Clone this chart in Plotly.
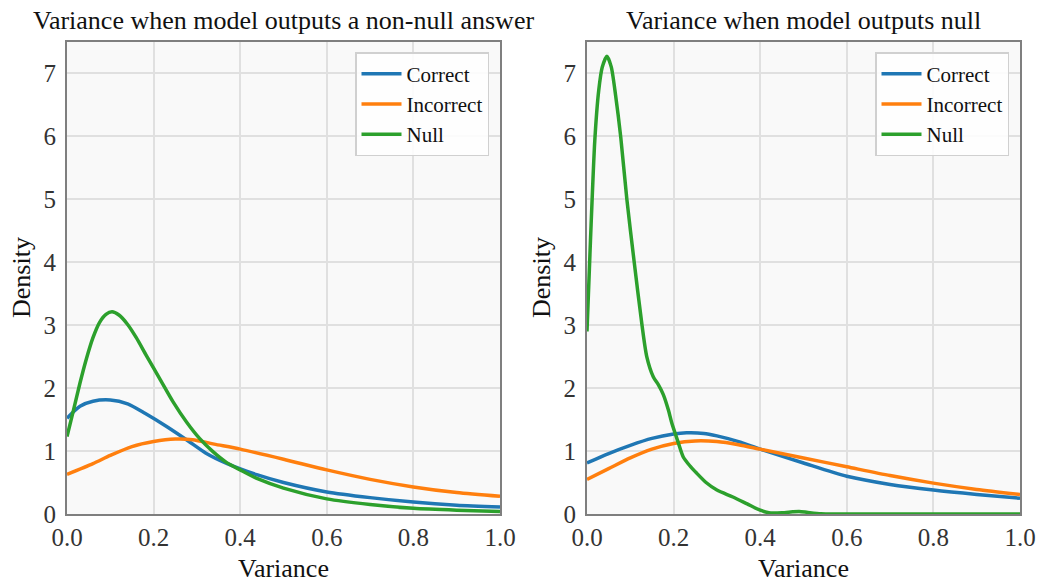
import plotly.graph_objects as go

# ---------------- data ----------------
series_names = ["Correct", "Incorrect", "Null"]
series_colors = ["#1f77b4", "#ff7f0e", "#2ca02c"]

panel_titles = ["Variance when model outputs a non-null answer",
                "Variance when model outputs null"]

x_ticks = [0.0, 0.2, 0.4, 0.6, 0.8, 1.0]
x_tick_labels = ["0.0", "0.2", "0.4", "0.6", "0.8", "1.0"]
y_ticks = [0, 1, 2, 3, 4, 5, 6, 7]
y_tick_labels = ["0", "1", "2", "3", "4", "5", "6", "7"]

# Left panel: model outputs a non-null answer
left_correct_x = [0.0, 0.03, 0.06, 0.10, 0.14, 0.18, 0.23, 0.28, 0.32, 0.37, 0.44, 0.50, 0.60, 0.70, 0.80, 0.90, 1.0]
left_correct_y = [1.52, 1.71, 1.79, 1.81, 1.75, 1.60, 1.39, 1.16, 0.97, 0.80, 0.62, 0.50, 0.35, 0.26, 0.19, 0.14, 0.11]

left_incorrect_x = [0.0, 0.06, 0.10, 0.15, 0.20, 0.25, 0.29, 0.34, 0.40, 0.50, 0.60, 0.70, 0.80, 0.90, 1.0]
left_incorrect_y = [0.63, 0.80, 0.93, 1.07, 1.15, 1.19, 1.18, 1.11, 1.03, 0.87, 0.70, 0.55, 0.43, 0.34, 0.28]

left_null_x = [0.0, 0.015, 0.03, 0.045, 0.06, 0.075, 0.09, 0.104, 0.12, 0.14, 0.16, 0.183, 0.214, 0.245, 0.276,
               0.306, 0.337, 0.368, 0.40, 0.44, 0.50, 0.60, 0.70, 0.80, 0.90, 1.0]
left_null_y = [1.23, 1.65, 2.08, 2.47, 2.80, 3.04, 3.17, 3.21, 3.16, 3.01, 2.80, 2.52, 2.15, 1.78, 1.46,
               1.20, 0.99, 0.82, 0.70, 0.56, 0.41, 0.24, 0.15, 0.09, 0.06, 0.04]

# Right panel: model outputs null
right_correct_x = [0.0, 0.05, 0.10, 0.15, 0.20, 0.23, 0.27, 0.30, 0.35, 0.40, 0.50, 0.60, 0.70, 0.80, 0.90, 1.0]
right_correct_y = [0.81, 0.96, 1.09, 1.20, 1.27, 1.29, 1.28, 1.24, 1.15, 1.03, 0.81, 0.60, 0.47, 0.38, 0.31, 0.25]

right_incorrect_x = [0.0, 0.05, 0.10, 0.15, 0.20, 0.25, 0.30, 0.35, 0.40, 0.50, 0.60, 0.70, 0.80, 0.90, 1.0]
right_incorrect_y = [0.55, 0.72, 0.89, 1.03, 1.12, 1.16, 1.15, 1.10, 1.03, 0.89, 0.75, 0.61, 0.49, 0.39, 0.31]

right_null_x = [0.0, 0.008, 0.018, 0.027, 0.035, 0.046, 0.056, 0.066, 0.078, 0.092, 0.109, 0.127, 0.138,
                0.153, 0.165, 0.176, 0.188, 0.196, 0.21, 0.222, 0.237, 0.253, 0.275, 0.30, 0.337, 0.37,
                0.40, 0.42, 0.45, 0.475, 0.49, 0.51, 0.54, 0.57, 0.70, 0.85, 1.0]
right_null_y = [2.90, 4.34, 5.93, 6.72, 7.09, 7.27, 7.10, 6.65, 5.98, 5.00, 4.00, 3.00, 2.50,
                2.18, 2.05, 1.90, 1.65, 1.44, 1.15, 0.91, 0.77, 0.65, 0.50, 0.38, 0.27, 0.16,
                0.06, 0.02, 0.02, 0.035, 0.04, 0.025, 0.005, 0.0, 0.0, 0.0, 0.0]

panels = [
    [(left_correct_x, left_correct_y), (left_incorrect_x, left_incorrect_y), (left_null_x, left_null_y)],
    [(right_correct_x, right_correct_y), (right_incorrect_x, right_incorrect_y), (right_null_x, right_null_y)],
]

# ---------------- figure ----------------
W, H = 1040, 584
FONT = "Liberation Serif"

fig = go.Figure()

x_domains = [[67 / W, 500 / W], [587 / W, 1020 / W]]
y_domain = [(H - 514) / H, (H - 41.7) / H]

for p, panel in enumerate(panels):
    xa = "x" if p == 0 else "x2"
    ya = "y" if p == 0 else "y2"
    lg = "legend" if p == 0 else "legend2"
    for (xs, ys), name, color in zip(panel, series_names, series_colors):
        fig.add_trace(go.Scatter(
            x=xs, y=ys, mode="lines", name=name,
            line=dict(color=color, width=3.5, shape="spline", smoothing=0.7),
            xaxis=xa, yaxis=ya, legend=lg, showlegend=True,
        ))

axis_common = dict(
    showline=True, linecolor="#7f7f7f", linewidth=2, mirror=True,
    showgrid=True, gridcolor="#e0e0e0", gridwidth=1.5,
    zeroline=False, ticks="", automargin=False,
    tickfont=dict(family=FONT, size=25, color="#333333"),
)

layout_axes = {}
for p in range(2):
    sx = "" if p == 0 else "2"
    layout_axes["xaxis" + sx] = dict(
        axis_common, domain=x_domains[p], range=[0, 1], anchor="y" + sx,
        tickvals=x_ticks, ticktext=x_tick_labels, ticklabelstandoff=0,
    )
    layout_axes["yaxis" + sx] = dict(
        axis_common, domain=y_domain, range=[0, 7.5], anchor="x" + sx,
        tickvals=y_ticks, ticktext=y_tick_labels, ticklabelstandoff=4,
    )

legend_common = dict(
    xanchor="right", yanchor="top", y=1 - 52 / H,
    bgcolor="rgba(255,255,255,0.85)", bordercolor="#d0d0d0", borderwidth=1.5,
    font=dict(family=FONT, size=21, color="#111111"),
    itemwidth=40, tracegroupgap=0,
)

fig.update_layout(
    width=W, height=H,
    margin=dict(l=0, r=0, t=0, b=0, autoexpand=False),
    paper_bgcolor="white", plot_bgcolor="#f9f9f9",
    font=dict(family=FONT, size=21, color="#111111"),
    legend=dict(legend_common, x=489 / W),
    legend2=dict(legend_common, x=1009 / W),
    **layout_axes,
)

annotations = []
centers = [(67 + 500) / 2 / W, (587 + 1020) / 2 / W]
for p in range(2):
    annotations.append(dict(
        text=panel_titles[p], x=centers[p], y=1 - 20 / H, xref="paper", yref="paper",
        xanchor="center", yanchor="middle", showarrow=False,
        font=dict(family=FONT, size=26, color="#111111"),
    ))
    annotations.append(dict(
        text="Variance", x=centers[p], y=1 - 568 / H, xref="paper", yref="paper",
        xanchor="center", yanchor="middle", showarrow=False,
        font=dict(family=FONT, size=26, color="#111111"),
    ))
ylab_x = [21 / W, 541 / W]
for p in range(2):
    annotations.append(dict(
        text="Density", x=ylab_x[p], y=1 - 278 / H, xref="paper", yref="paper",
        xanchor="center", yanchor="middle", showarrow=False, textangle=-90,
        font=dict(family=FONT, size=26, color="#111111"),
    ))
fig.update_layout(annotations=annotations)

fig.write_html("out.html")
